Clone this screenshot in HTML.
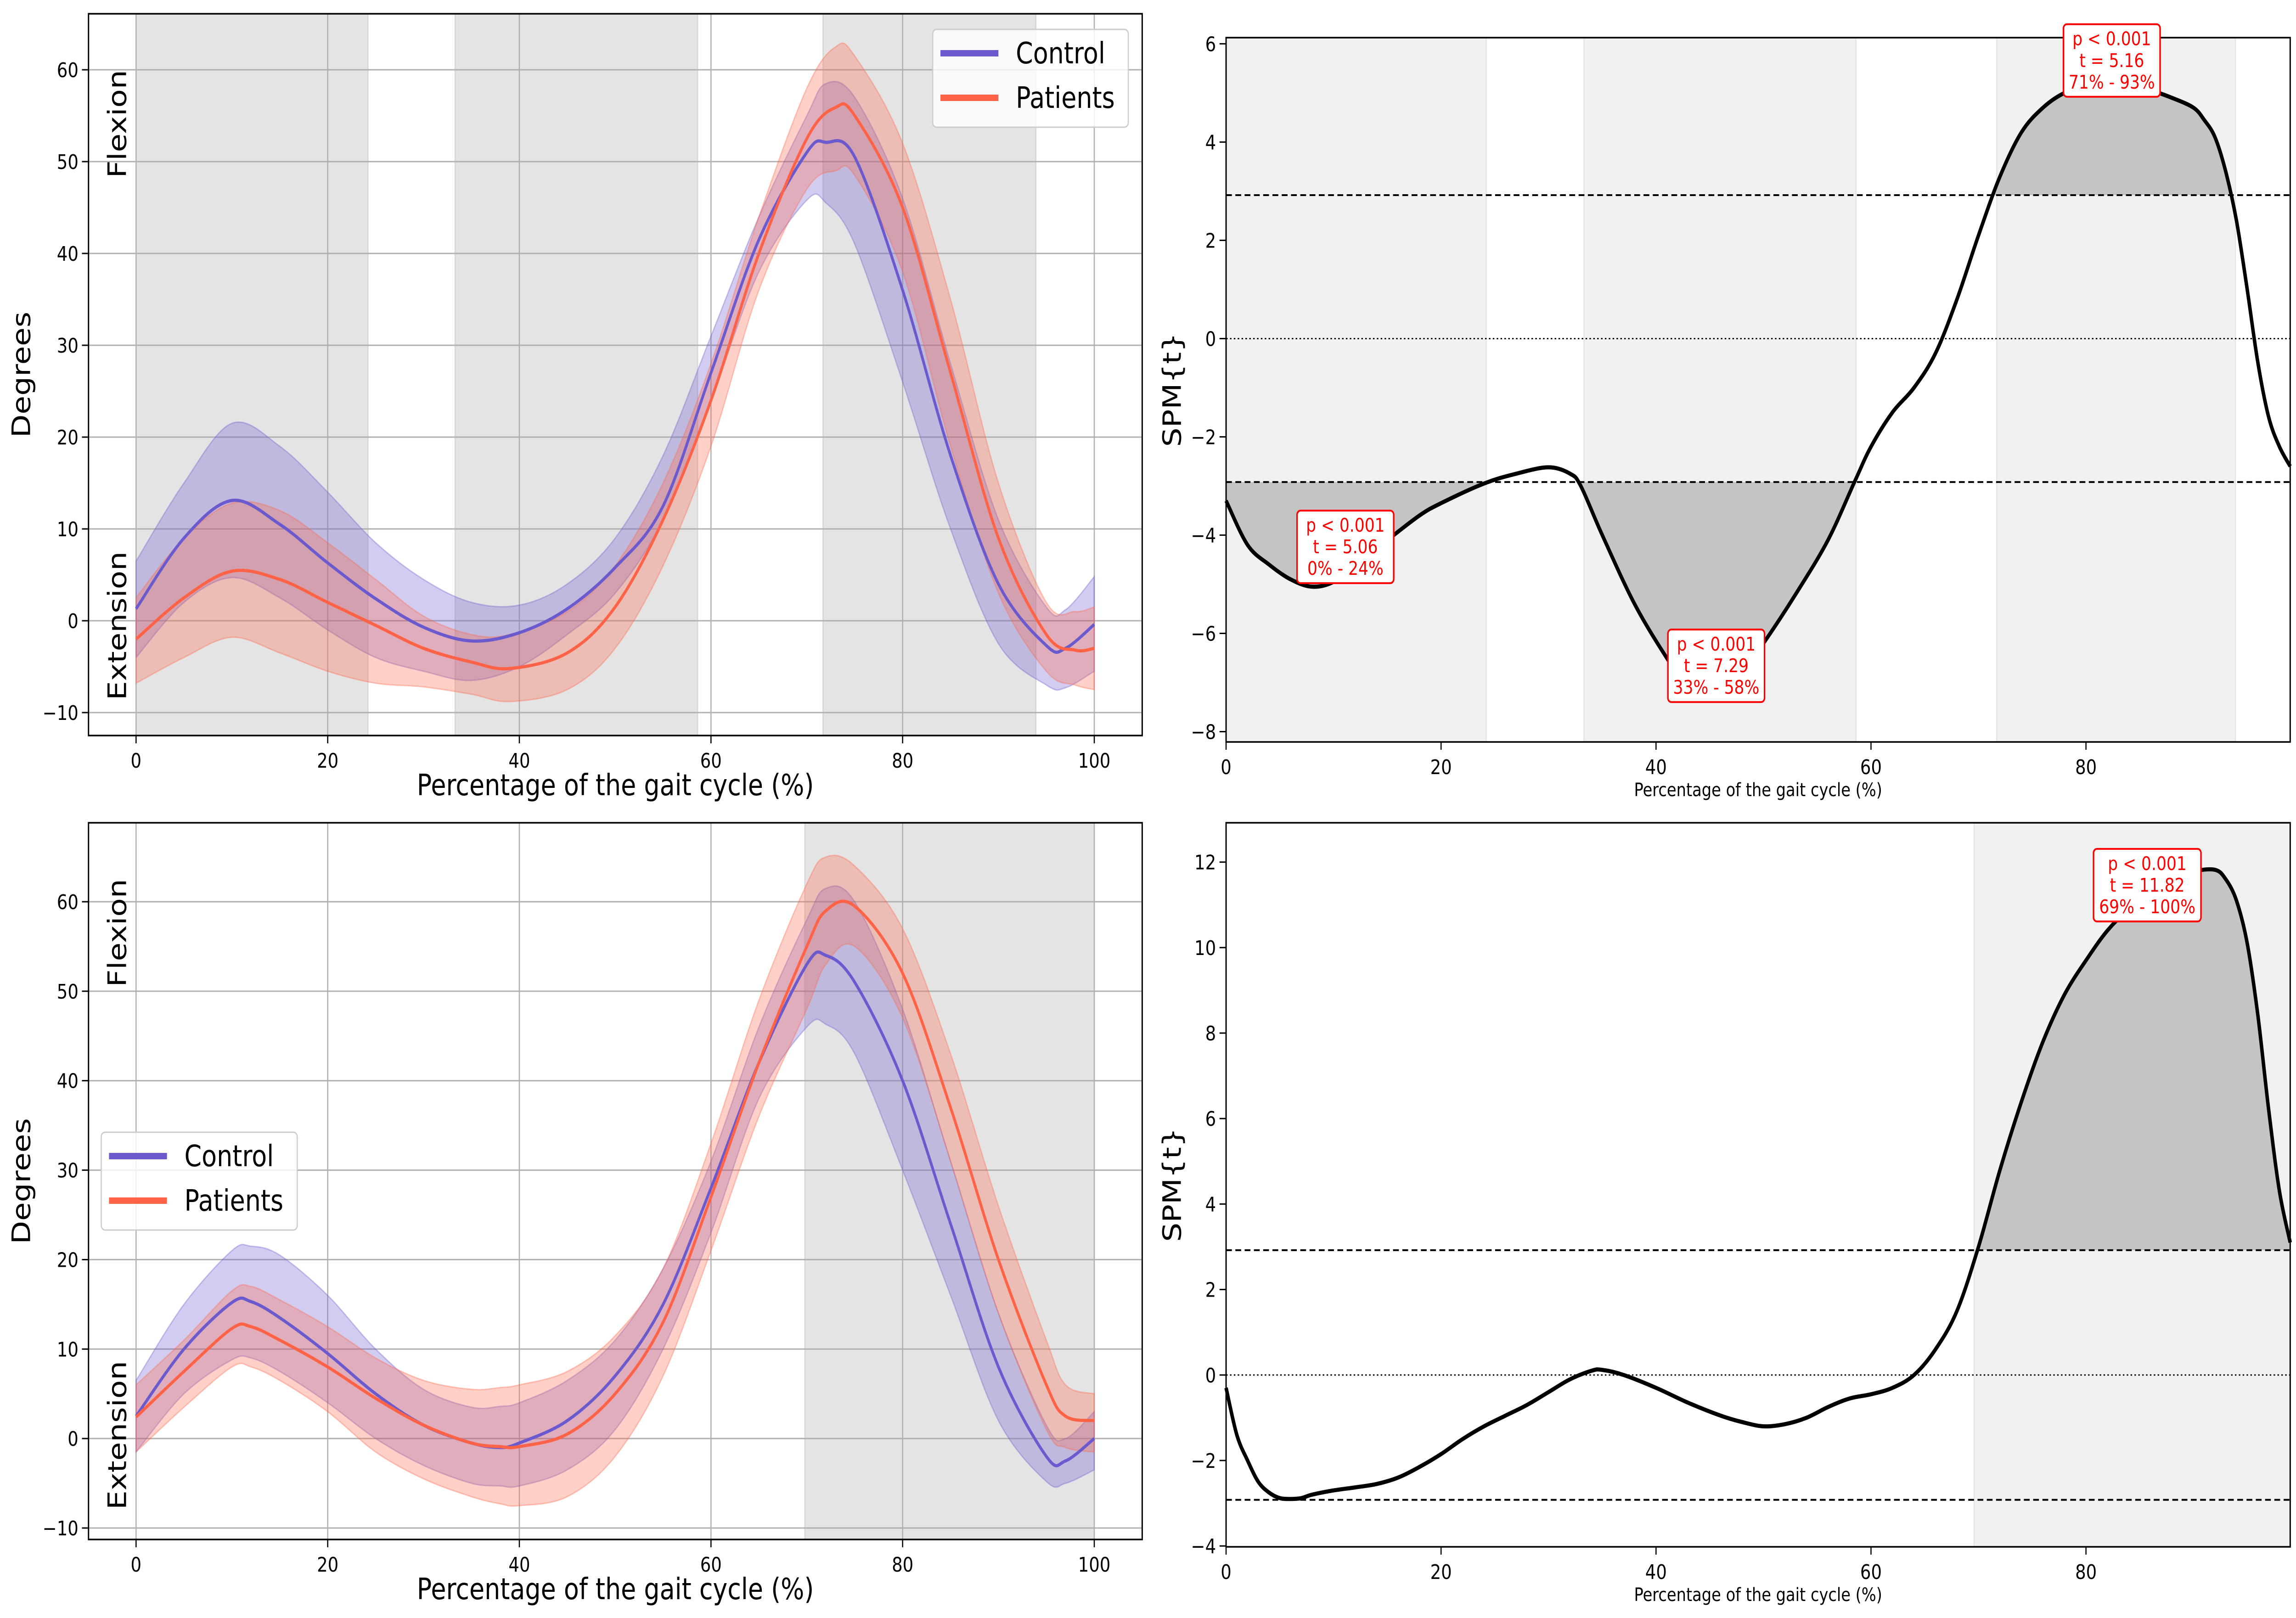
<!DOCTYPE html>
<html><head><meta charset="utf-8">
<style>
html,body{margin:0;padding:0;background:#fff;width:100%;height:100%;overflow:hidden;}
svg{display:block;position:fixed;left:0;top:0;width:100vw;height:100vh;font-family:"DejaVu Sans","Liberation Sans",sans-serif;}
</style></head>
<body>
<svg id="fig" xmlns="http://www.w3.org/2000/svg" viewBox="0 0 5940 3524" preserveAspectRatio="none">
<rect width="5940" height="3524" fill="#fff"/>
</svg>
<script>
// ---------- data ----------
const xTicksLeft = [0, 20, 40, 60, 80, 100];
const xTicksRight = [0, 20, 40, 60, 80];
const yTicksKin = [-10, 0, 10, 20, 30, 40, 50, 60];
const yTicksSpm1 = [-8, -6, -4, -2, 0, 2, 4, 6];
const yTicksSpm2 = [-4, -2, 0, 2, 4, 6, 8, 10, 12];

// Top-left kinematics
const k1X = [0,5,10,15,20,25,30,35,40,45,50,55,60,65,70,72,75,80,85,90,95,97,100];
const k1CtrlMean = [1.3,9,13.1,10.5,6.3,2.4,-0.7,-2.2,-1.3,1.3,5.8,12.5,27,41.5,51,52.1,50.5,36,18,4,-2.7,-3,-0.4];
const k1CtrlUp   = [6.5,15,21.5,19,14,8.5,4.5,2,1.7,4,9,18,31,44,55,58.5,57,46,28,11,1.5,1.2,4.8];
const k1CtrlLo   = [-4,2,4.7,2.5,-1,-4,-5.5,-6.5,-5,-1.5,3,11,24,38,45.8,45.5,41,26,10,-2.5,-7,-7.3,-5.5];
const k1PatX = [0,5,10,15,20,25,30,35,39,45,50,55,60,65,70,73,75,80,85,90,95,98,100];
const k1PatMean = [-2,2.5,5.4,4.5,2,-0.5,-3,-4.5,-5.2,-3.5,1.5,11,24,40,52.5,55.9,55,45,27,9,-1.5,-3.2,-3];
const k1PatUp   = [2.5,9,12.8,12,8.5,4.5,0.5,-1.5,-1.5,1,6,15,28,44,58,62.5,61.5,52,35,15,2,1,1.5];
const k1PatLo   = [-6.8,-4,-1.8,-3.5,-5.5,-6.8,-7.2,-8,-8.8,-7.5,-3,6,19,36,47,49,48.5,38,19,3,-5.5,-7,-7.5];
const k1Spans = [[0,24.2],[33.3,58.6],[71.7,93.9]];

// Bottom-left kinematics
const k2X = [0,5,10,12,15,20,25,30,35,38,40,45,50,55,60,65,70,72,75,80,85,90,95,97,100];
const k2CtrlMean = [2.5,10,15.2,15.3,13.5,9.5,5,1.5,-0.5,-1,-0.5,2,7,15,28,42,53,54,51,40,24,8,-2,-2.5,0];
const k2CtrlUp   = [6.5,15,21,21.5,20.5,16,10,5.5,3.5,3.6,4,6.5,11,19,31,46,58,61.5,60,48,31,14,1.5,0,3];
const k2CtrlLo   = [-1.5,5,8.8,9,7.5,4,0,-3,-5,-5.3,-5.3,-3.5,1,10,23,38,46,46.3,43,30,16,2,-4.8,-5,-3.5];
const k2PatMean = [2.4,7.5,12.3,12.5,11,8,4.5,1.5,-0.5,-0.9,-0.9,0.5,5,13,27,42,55,59,59.5,52,37,20,6,2.5,2];
const k2PatUp   = [6,11,16.5,17,15.5,12.5,9,6.5,5.5,5.7,6,7.5,11.5,19,33,49,62,65,64,57,43,26,11,6,5];
const k2PatLo   = [-1.5,3.5,8,8,6.5,3,-1.5,-4.5,-6.5,-7.3,-7.5,-6.5,-2,7,21,36,48,53,55,47,31,14,1,-1,-1.5];
const k2Spans = [[69.8,100]];

// Top-right SPM
const s1X = [0,2,4,6,8,10,12,15,18,20,24,27,30,32,33,35,38,41,43,45,47,50,53,56,58.5,60,62,64,66,68,70,72,74,76,78,80,82,84,86,88,90,91,92,93,94,95,96,97,98,99];
const s1T = [-3.3,-4.2,-4.6,-4.9,-5.05,-4.95,-4.6,-4.1,-3.6,-3.35,-2.95,-2.75,-2.62,-2.75,-3.0,-4,-5.4,-6.5,-7.1,-7.3,-7.1,-6.2,-5.2,-4.1,-2.9,-2.2,-1.5,-1.0,-0.3,0.8,2.1,3.3,4.2,4.7,5.0,5.12,5.16,5.12,5.05,4.9,4.7,4.45,4.1,3.4,2.4,1.0,-0.5,-1.6,-2.2,-2.6];
const s1Thresh = 2.92;
const s1Spans = [[0,24.2],[33.3,58.6],[71.7,93.9]];
const s1Labels = [["p < 0.001","t = 5.06","0% - 24%"],["p < 0.001","t = 7.29","33% - 58%"],["p < 0.001","t = 5.16","71% - 93%"]];
const s1LabelPos = [[11.1,-4.24],[45.6,-6.66],[82.4,5.66]];

// Bottom-right SPM
const s2X = [0,1,2,3,4,5,6,7,8,10,12,14,16,18,20,22,24,26,28,30,32,34,35,37,40,43,46,48,50,52,54,56,58,60,62,64,66,68,70,72,74,76,78,80,82,84,86,88,90,92,93,94,95,96,97,98,99];
const s2T = [-0.3,-1.4,-2.0,-2.5,-2.75,-2.88,-2.9,-2.88,-2.8,-2.7,-2.63,-2.55,-2.4,-2.15,-1.85,-1.5,-1.2,-0.95,-0.7,-0.4,-0.1,0.1,0.12,0.0,-0.3,-0.65,-0.95,-1.1,-1.2,-1.15,-1.0,-0.75,-0.55,-0.45,-0.3,0.0,0.6,1.5,3.0,4.8,6.4,7.8,8.9,9.7,10.4,10.9,11.25,11.6,11.78,11.82,11.6,11.1,10.1,8.4,6.2,4.3,3.1];
const s2Thresh = 2.92;
const s2Spans = [[69.6,99]];
const s2Labels = [["p < 0.001","t = 11.82","69% - 100%"]];
const s2LabelPos = [[85.7,11.46]];

// ---------- helpers ----------
const NS = "http://www.w3.org/2000/svg";
const fig = document.getElementById('fig');
function mk(tag, attrs, parent){
  const e = document.createElementNS(NS, tag);
  for (const k in attrs) e.setAttribute(k, attrs[k]);
  (parent||fig).appendChild(e);
  return e;
}
function scale(d0,d1,r0,r1){ return v => r0 + (v-d0)/(d1-d0)*(r1-r0); }
function smoothPath(pts, move){
  let d = (move?'M':'L') + pts[0][0].toFixed(1)+','+pts[0][1].toFixed(1);
  for (let i=0;i<pts.length-1;i++){
    const p0=pts[i-1]||pts[i], p1=pts[i], p2=pts[i+1], p3=pts[i+2]||p2;
    const c1=[p1[0]+(p2[0]-p0[0])/6, p1[1]+(p2[1]-p0[1])/6];
    const c2=[p2[0]-(p3[0]-p1[0])/6, p2[1]-(p3[1]-p1[1])/6];
    d += 'C'+c1[0].toFixed(1)+','+c1[1].toFixed(1)+' '+c2[0].toFixed(1)+','+c2[1].toFixed(1)+' '+p2[0].toFixed(1)+','+p2[1].toFixed(1);
  }
  return d;
}
function dense(xs, ys, n){
  const out=[];
  for (let i=0;i<xs.length-1;i++){
    const x0=xs[i-1]!==undefined?xs[i-1]:xs[i], x1=xs[i], x2=xs[i+1], x3=xs[i+2]!==undefined?xs[i+2]:xs[i+1];
    const y0=ys[i-1]!==undefined?ys[i-1]:ys[i], y1=ys[i], y2=ys[i+1], y3=ys[i+2]!==undefined?ys[i+2]:ys[i+1];
    for (let k=0;k<n;k++){
      const t=k/n;
      const bx=[x1,x1+(x2-x0)/6,x2-(x3-x1)/6,x2], by=[y1,y1+(y2-y0)/6,y2-(y3-y1)/6,y2];
      const b=(a)=>(1-t)**3*a[0]+3*(1-t)**2*t*a[1]+3*(1-t)*t*t*a[2]+t**3*a[3];
      out.push([b(bx),b(by)]);
    }
  }
  out.push([xs[xs.length-1], ys[ys.length-1]]);
  return out;
}

function axesFrame(g, box, sx, sy, xt, yt, opt){
  xt.forEach(v=>{
    const x=sx(v);
    const t=mk('line',{x1:x,x2:x,y1:box.b,y2:box.b+17,stroke:'#000','stroke-width':3},g);
    
    
    const l=mk('text',{x:x,y:box.b+70,'font-size':44,'text-anchor':'middle'},g);
    l.textContent=String(v).replace('-','\u2212');
    
    
  });
  yt.forEach(v=>{
    const y=sy(v);
    const t=mk('line',{x1:box.l-17,x2:box.l,y1:y,y2:y,stroke:'#000','stroke-width':3},g);
    
    
    const l=mk('text',{x:box.l-26,y:y+16,'font-size':44,'text-anchor':'end'},g);
    l.textContent=String(v).replace('-','\u2212');
    
    
  });
  const r=mk('rect',{x:box.l,y:box.t,width:box.r-box.l,height:box.b-box.t,fill:'none',stroke:'#000','stroke-width':3.5},g);
  
  
  const xl=mk('text',{x:(box.l+box.r)/2,y:opt.xlabY,'font-size':opt.xlabSize,'text-anchor':'middle'},g);
  xl.textContent='Percentage of the gait cycle (%)';
  
  
  const yl=mk('text',{x:0,y:0,'font-size':66,'text-anchor':'middle',transform:'translate('+opt.ylabX+','+((box.t+box.b)/2)+') rotate(-90)'},g);
  yl.textContent=opt.ylab;
  
  
}

function kinPanel(name, box, spans, X, cM, cU, cL, PX, pM, pU, pL, legend){
  const g=mk('g',{});
  
  
  const sx=scale(0,100,box.x0,box.x100);
  const sy=scale(-10,60,box.ym10,box.y60);
  const ylo=-10+(box.b-box.ym10)/(box.y60-box.ym10)*70;
  const yhi=-10+(box.t-box.ym10)/(box.y60-box.ym10)*70;
  spans.forEach(s=>{
    const r=mk('rect',{x:sx(s[0]),y:sy(yhi),width:sx(s[1])-sx(s[0]),height:sy(ylo)-sy(yhi),fill:'#e4e4e4',stroke:'#d6d6d6','stroke-width':3},g);
    
    
  });
  xTicksLeft.forEach(v=>{
    const l=mk('line',{x1:sx(v),x2:sx(v),y1:box.t,y2:box.b,stroke:'#b0b0b0','stroke-width':3},g);
    
    
  });
  yTicksKin.forEach(v=>{
    const l=mk('line',{x1:box.l,x2:box.r,y1:sy(v),y2:sy(v),stroke:'#b0b0b0','stroke-width':3},g);
    
    
  });
  function band(xs,up,lo,col,nm){
    const u=xs.map((x,i)=>[sx(x),sy(up[i])]);
    const lw=xs.map((x,i)=>[sx(x),sy(lo[i])]).reverse();
    const d=smoothPath(u,true)+smoothPath(lw,false)+'Z';
    const p=mk('path',{d:d,fill:col,'fill-opacity':0.3,stroke:col,'stroke-opacity':0.35,'stroke-width':3},g);
    
    
  }
  function line(xs,ys,col,nm){
    const p=mk('path',{d:smoothPath(xs.map((x,i)=>[sx(x),sy(ys[i])]),true),fill:'none',stroke:col,'stroke-width':7},g);
    
    
  }
  band(X,cU,cL,'#6a5acd','control-sd-band');
  band(PX,pU,pL,'#ff6347','patients-sd-band');
  line(X,cM,'#6a5acd','control-mean-line');
  line(PX,pM,'#ff6347','patients-mean-line');
  axesFrame(g, box, sx, sy, xTicksLeft, yTicksKin, {xlabY:box.b+130,xlabSize:64,ylab:'Degrees',ylabX:78});
  const f=mk('text',{x:0,y:0,'font-size':66,'text-anchor':'middle',transform:'translate(326,'+box.flexY+') rotate(-90)'},g);
  f.textContent='Flexion';
  
  
  const e=mk('text',{x:0,y:0,'font-size':66,'text-anchor':'middle',transform:'translate(326,'+box.extY+') rotate(-90)'},g);
  e.textContent='Extension';
  
  
  const lg=mk('g',{},g);
  
  
  const lb=mk('rect',{x:legend.x,y:legend.y,width:legend.w,height:legend.h,rx:10,fill:'#fff','fill-opacity':0.8,stroke:'#cccccc','stroke-width':3},lg);
  
  
  [['Control','#6a5acd'],['Patients','#ff6347']].forEach((it,i)=>{
    const y=legend.y+52+i*97;
    const l=mk('line',{x1:legend.x+20,x2:legend.x+170,y1:y,y2:y,stroke:it[1],'stroke-width':14},lg);
    
    
    const t=mk('text',{x:legend.x+215,y:y+22,'font-size':64},lg);
    t.textContent=it[0];
    
    
  });
}

function spmPanel(name, box, xmax, ymin, ymax, spans, X, T, thr, yt, labels, lpos){
  const g=mk('g',{});
  
  
  const sx=scale(0,xmax,box.l,box.r);
  const sy=scale(ymin,ymax,box.b,box.t);
  spans.forEach(s=>{
    const r=mk('rect',{x:sx(s[0]),y:box.t,width:sx(s[1])-sx(s[0]),height:box.b-box.t,fill:'#f1f1f1',stroke:'#e4e4e4','stroke-width':3},g);
    
    
  });
  const pts=dense(X,T,12);
  function fillSeg(sign){
    let seg=[];
    const flush=()=>{
      if(seg.length>1){
        let d='M'+sx(seg[0][0])+','+sy(sign*thr);
        seg.forEach(p=>{d+='L'+sx(p[0]).toFixed(1)+','+sy(p[1]).toFixed(1);});
        d+='L'+sx(seg[seg.length-1][0])+','+sy(sign*thr)+'Z';
        const p=mk('path',{d:d,fill:'#c4c4c4'},g);
        
        
      }
      seg=[];
    };
    pts.forEach(p=>{ if(sign*p[1]>thr) seg.push(p); else flush(); });
    flush();
  }
  fillSeg(1); fillSeg(-1);
  [thr,-thr].forEach(v=>{
    const l=mk('line',{x1:box.l,x2:box.r,y1:sy(v),y2:sy(v),stroke:'#000','stroke-width':4,'stroke-dasharray':'15 9'},g);
    
    
  });
  const z=mk('line',{x1:box.l,x2:box.r,y1:sy(0),y2:sy(0),stroke:'#000','stroke-width':3,'stroke-dasharray':'4 6'},g);
  
  
  const c=mk('path',{d:smoothPath(X.map((x,i)=>[sx(x),sy(T[i])]),true),fill:'none',stroke:'#000','stroke-width':9,'stroke-linejoin':'round'},g);
  
  
  axesFrame(g, box, sx, sy, xTicksRight, yt, {xlabY:box.b+118,xlabSize:40,ylab:'SPM{t}',ylabX:3055});
  labels.forEach((lines,i)=>{
    const cx=sx(lpos[i][0]), cy=sy(lpos[i][1]);
    const w=lines[2].length>9?278:250, h=158;
    const bg=mk('g',{},g);
    
    
    const r=mk('rect',{x:cx-w/2,y:cy-h/2,width:w,height:h,rx:9,fill:'#fff',stroke:'#ff0000','stroke-width':4},bg);
    
    
    lines.forEach((s,j)=>{
      const t=mk('text',{x:cx,y:cy-47+14+j*47,'font-size':41,'text-anchor':'middle',fill:'#ff0000'},bg);
      t.textContent=s;
      
      
    });
  });
}

kinPanel('knee-angle-top', {l:229,r:2955,t:30,b:1602,x0:352,x100:2831,y60:152,ym10:1552,flexY:270,extY:1363},
  k1Spans, k1X, k1CtrlMean, k1CtrlUp, k1CtrlLo, k1PatX, k1PatMean, k1PatUp, k1PatLo,
  {x:2413,y:64,w:506,h:213});
kinPanel('knee-angle-bottom', {l:229,r:2955,t:1792,b:3353,x0:352,x100:2831,y60:1964,ym10:3328,flexY:2032,extY:3126},
  k2Spans, k2X, k2CtrlMean, k2CtrlUp, k2CtrlLo, k2X, k2PatMean, k2PatUp, k2PatLo,
  {x:262,y:2466,w:507,h:213});
spmPanel('spm-top', {l:3172,r:5925,t:82,b:1616}, 99, -8.21, 6.125, s1Spans, s1X, s1T, s1Thresh, yTicksSpm1, s1Labels, s1LabelPos);
spmPanel('spm-bottom', {l:3172,r:5925,t:1792,b:3369}, 99, -4.02, 12.92, s2Spans, s2X, s2T, s2Thresh, yTicksSpm2, s2Labels, s2LabelPos);
</script>
</body></html>
